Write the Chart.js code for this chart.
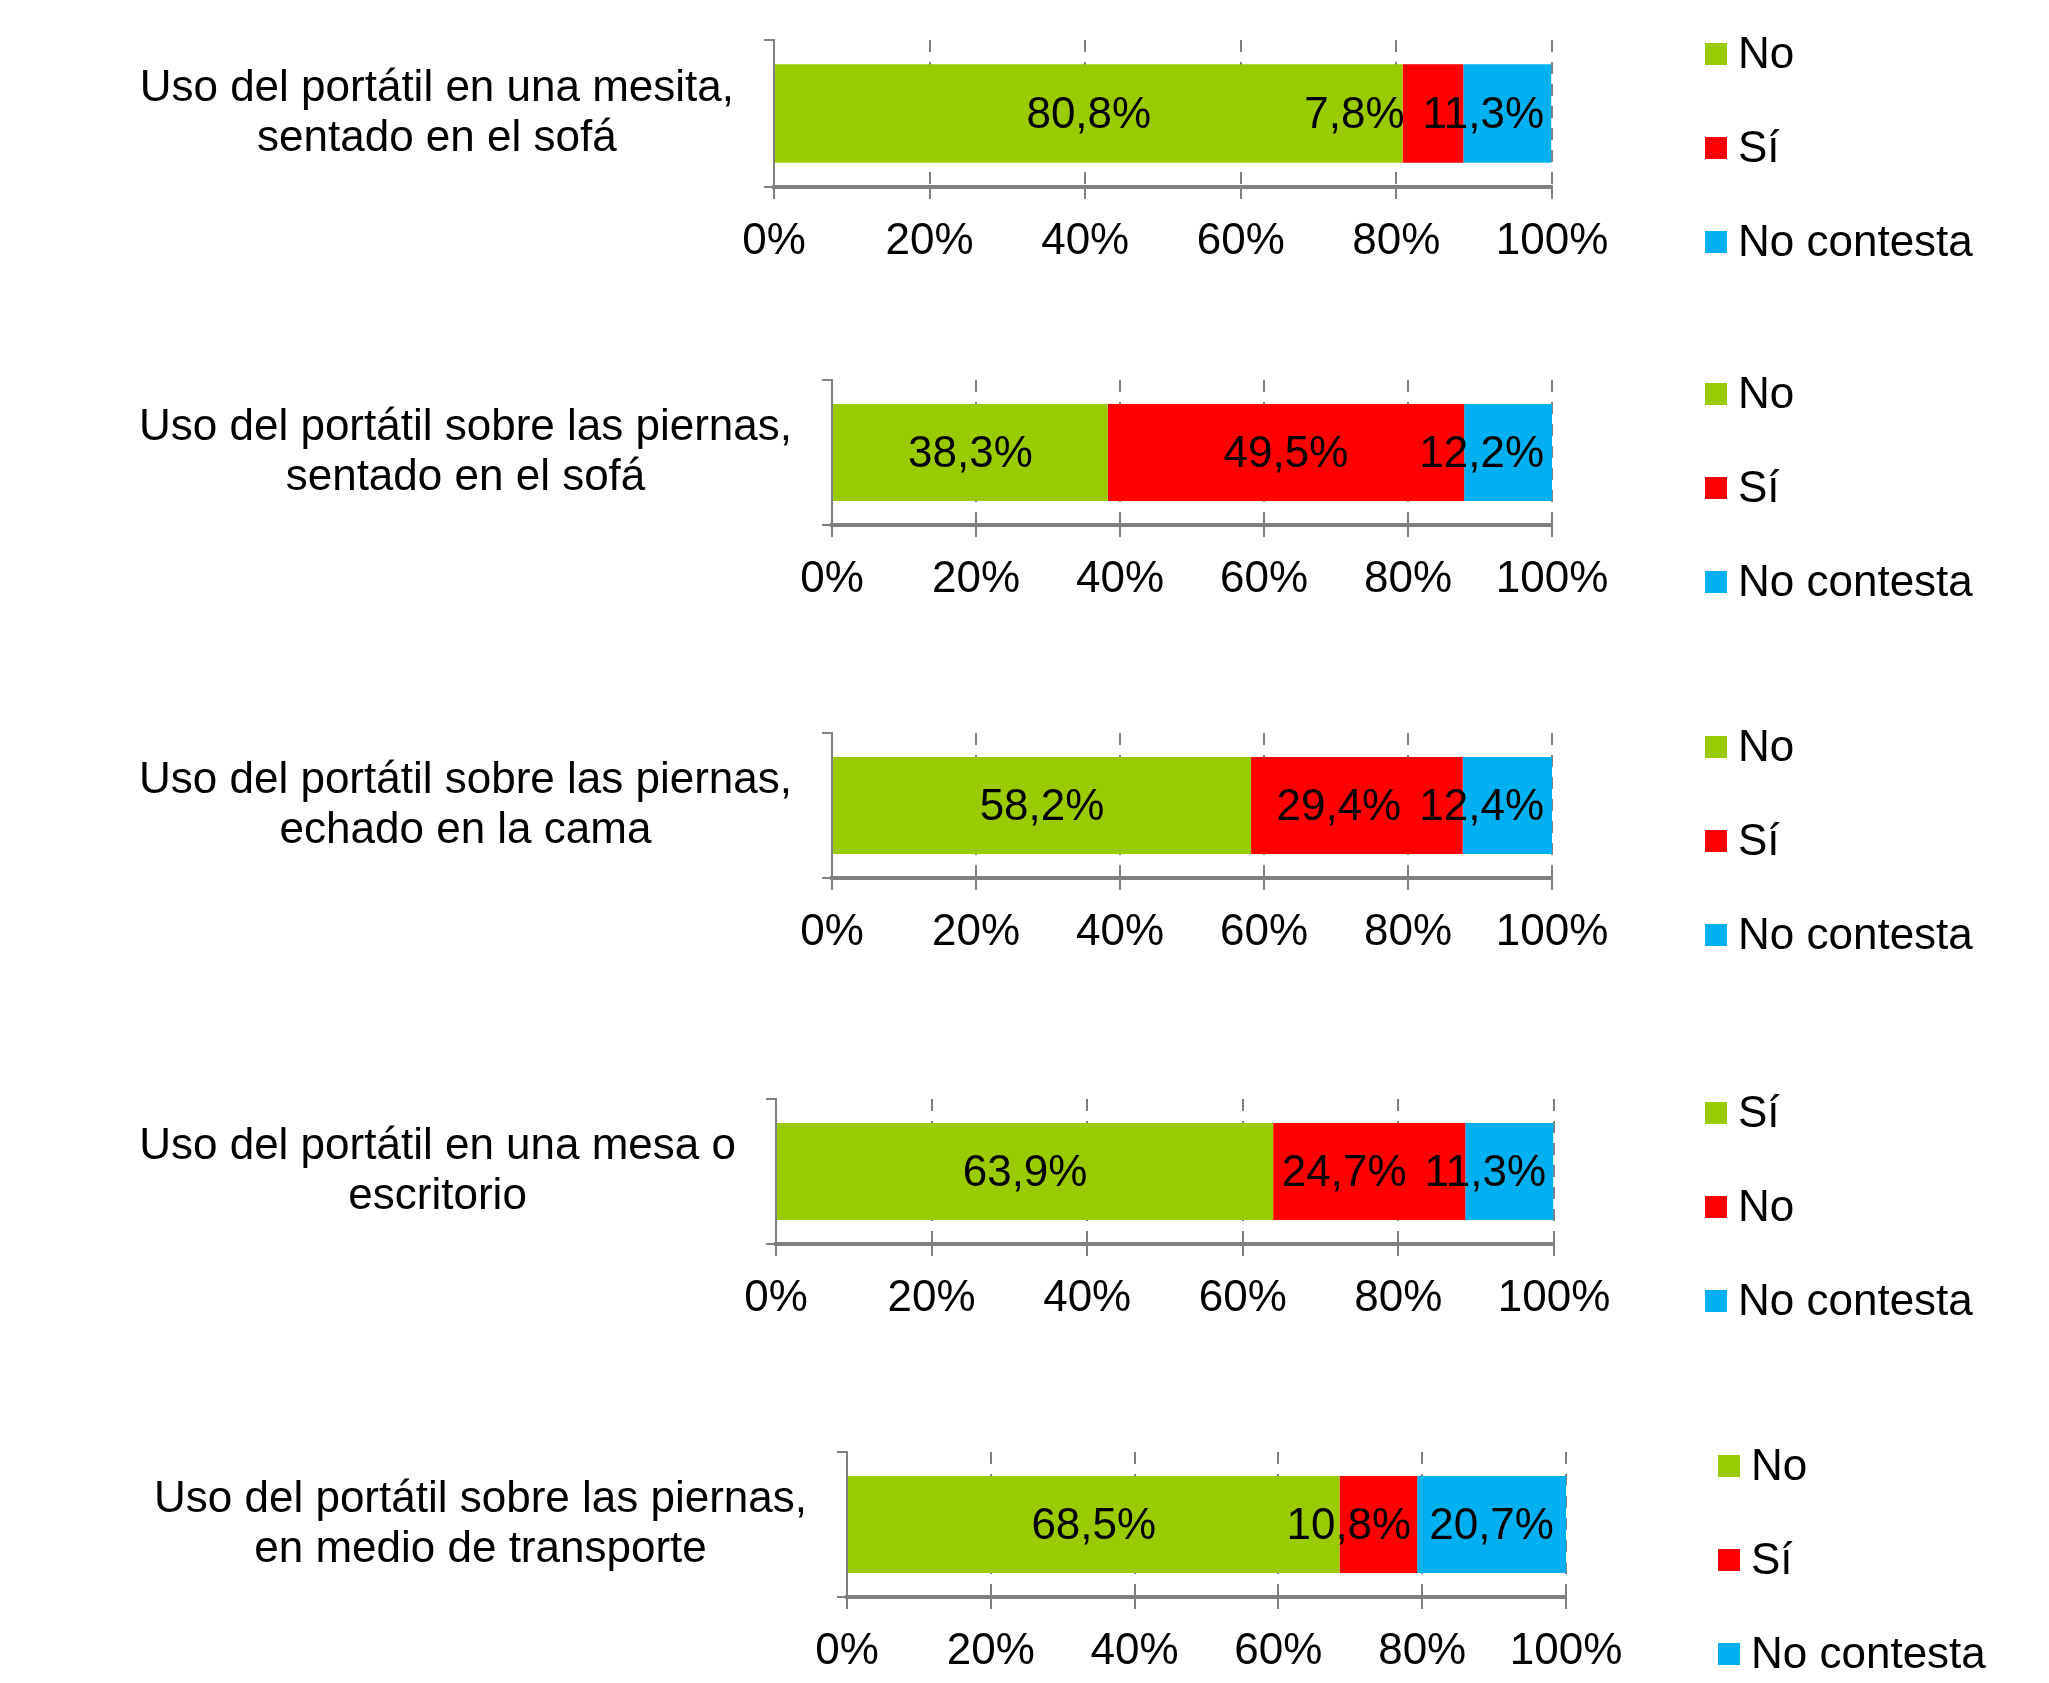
<!DOCTYPE html>
<html>
<head>
<meta charset="utf-8">
<script src="https://cdn.jsdelivr.net/npm/chart.js@4"></script>
<style>
  html, body { margin: 0; padding: 0; background: #fff; overflow: hidden; }
  #page { position: relative; width: 2049px; height: 1683px; }
  #page canvas { position: absolute; left: 0; }
</style>
</head>
<body>
<div id="page"></div>
<script>
// data
const categories = [
  ['Uso del portátil en una mesita,', 'sentado en el sofá'],
  ['Uso del portátil sobre las piernas,', 'sentado en el sofá'],
  ['Uso del portátil sobre las piernas,', 'echado en la cama'],
  ['Uso del portátil en una mesa o', 'escritorio'],
  ['Uso del portátil sobre las piernas,', 'en medio de transporte']
];
const greenValues = [80.8, 38.3, 58.2, 63.9, 68.5];
const redValues   = [7.8, 49.5, 29.4, 24.7, 10.8];
const blueValues  = [11.3, 12.2, 12.4, 11.3, 20.7];
const greenNames  = ['No', 'No', 'No', 'Sí', 'No'];
const redNames    = ['Sí', 'Sí', 'Sí', 'No', 'Sí'];
const blueNames   = ['No contesta', 'No contesta', 'No contesta', 'No contesta', 'No contesta'];
const tickValues  = [0, 20, 40, 60, 80, 100];

const GREEN = '#99CC00', RED = '#FF0000', BLUE = '#00B0F0';
const GRID = '#808080';
const FONT = '"Liberation Sans", Arial, sans-serif';
const FS = 44;

// where each little chart sits on the page
const panels = [
  { axisLeft: 774, axisRight: 1552, areaTop: 40,   areaBottom: 187,  legendX: 1705 },
  { axisLeft: 832, axisRight: 1552, areaTop: 380,  areaBottom: 525,  legendX: 1705 },
  { axisLeft: 832, axisRight: 1552, areaTop: 733,  areaBottom: 878,  legendX: 1705 },
  { axisLeft: 776, axisRight: 1554, areaTop: 1099, areaBottom: 1244, legendX: 1705 },
  { axisLeft: 847, axisRight: 1566, areaTop: 1452, areaBottom: 1597, legendX: 1718 }
];
const PAD_TOP = 40, X_AXIS_H = 86;

// percentage labels inside the bars, pushed left so they never run past the end
const barLabels = {
  id: 'barLabels',
  afterDatasetsDraw(chart) {
    const { ctx, chartArea } = chart;
    ctx.save();
    ctx.font = FS + 'px ' + FONT;
    ctx.fillStyle = '#000';
    ctx.textBaseline = 'middle';
    ctx.textAlign = 'left';
    const items = chart.data.datasets.map((ds, i) => {
      const bar = chart.getDatasetMeta(i).data[0];
      const text = ds.data[0].toFixed(1).replace('.', ',') + '%';
      const w = ctx.measureText(text).width;
      return { text, w, cx: (bar.x + bar.base) / 2, y: bar.y + 2 };
    });
    let limit = chartArea.right - 8;
    for (let i = items.length - 1; i >= 0; i--) {
      const it = items[i];
      const right = Math.min(it.cx + it.w / 2, limit);
      it.left = right - it.w;
      limit = it.left - 18;
    }
    items.forEach(it => ctx.fillText(it.text, it.left, it.y));
    ctx.restore();
  }
};

// legend column on the right
const sideLegend = {
  id: 'sideLegend',
  afterDraw(chart) {
    const { ctx, chartArea } = chart;
    const x = chart.options.plugins.sideLegend.x;
    ctx.save();
    ctx.font = FS + 'px ' + FONT;
    ctx.textBaseline = 'middle';
    ctx.textAlign = 'left';
    chart.data.datasets.forEach((ds, i) => {
      const y = chartArea.top + 14 + i * 94;
      ctx.fillStyle = ds.backgroundColor;
      ctx.fillRect(x, y - 11, 22, 22);
      ctx.fillStyle = '#000';
      ctx.fillText(ds.label, x + 33, y + 2);
    });
    ctx.restore();
  }
};

const page = document.getElementById('page');

panels.forEach((p, k) => {
  const canvas = document.createElement('canvas');
  const h = PAD_TOP + (p.areaBottom - p.areaTop) + X_AXIS_H;
  canvas.width = 2049;
  canvas.height = h;
  canvas.style.top = (p.areaTop - PAD_TOP) + 'px';
  canvas.style.width = '2049px';
  canvas.style.height = h + 'px';
  page.appendChild(canvas);

  new Chart(canvas.getContext('2d'), {
    type: 'bar',
    data: {
      labels: [categories[k]],
      datasets: [
        { label: greenNames[k], data: [greenValues[k]], backgroundColor: GREEN },
        { label: redNames[k],   data: [redValues[k]],   backgroundColor: RED },
        { label: blueNames[k],  data: [blueValues[k]],  backgroundColor: BLUE }
      ]
    },
    options: {
      indexAxis: 'y',
      responsive: false,
      animation: false,
      devicePixelRatio: 1,
      categoryPercentage: 1,
      barPercentage: 0.67,
      layout: { padding: { left: 0, top: PAD_TOP, right: 2049 - p.axisRight, bottom: 0 } },
      plugins: {
        legend: { display: false },
        tooltip: { enabled: false },
        sideLegend: { x: p.legendX }
      },
      scales: {
        x: {
          type: 'linear',
          stacked: true,
          min: 0,
          max: 100,
          afterBuildTicks: s => { s.ticks = tickValues.map(v => ({ value: v })); },
          afterFit: s => { s.height = X_AXIS_H; },
          ticks: {
            callback: v => v + '%',
            color: '#000',
            font: { family: FONT, size: FS },
            padding: 16,
            maxRotation: 0,
            autoSkip: false
          },
          grid: {
            color: GRID,
            lineWidth: 2,
            tickLength: 12,
            tickColor: GRID,
            tickWidth: 2,
            tickBorderDash: []
          },
          // in v4 the dash of the grid lines lives here; the axis line itself stays solid
          border: { display: true, color: GRID, width: 4, dash: [12, 10] }
        },
        y: {
          stacked: true,
          afterFit: s => {
            s.width = p.axisLeft;
            s.paddingTop = 0;
            s.paddingBottom = 0;
          },
          ticks: {
            color: '#000',
            crossAlign: 'center',
            padding: 30,
            font: { family: FONT, size: FS, lineHeight: 1.14 }
          },
          grid: {
            drawOnChartArea: false,
            color: GRID,
            lineWidth: 2,
            tickLength: 10
          },
          border: { display: true, color: GRID, width: 2 }
        }
      }
    },
    plugins: [barLabels, sideLegend]
  });
});
</script>
</body>
</html>
